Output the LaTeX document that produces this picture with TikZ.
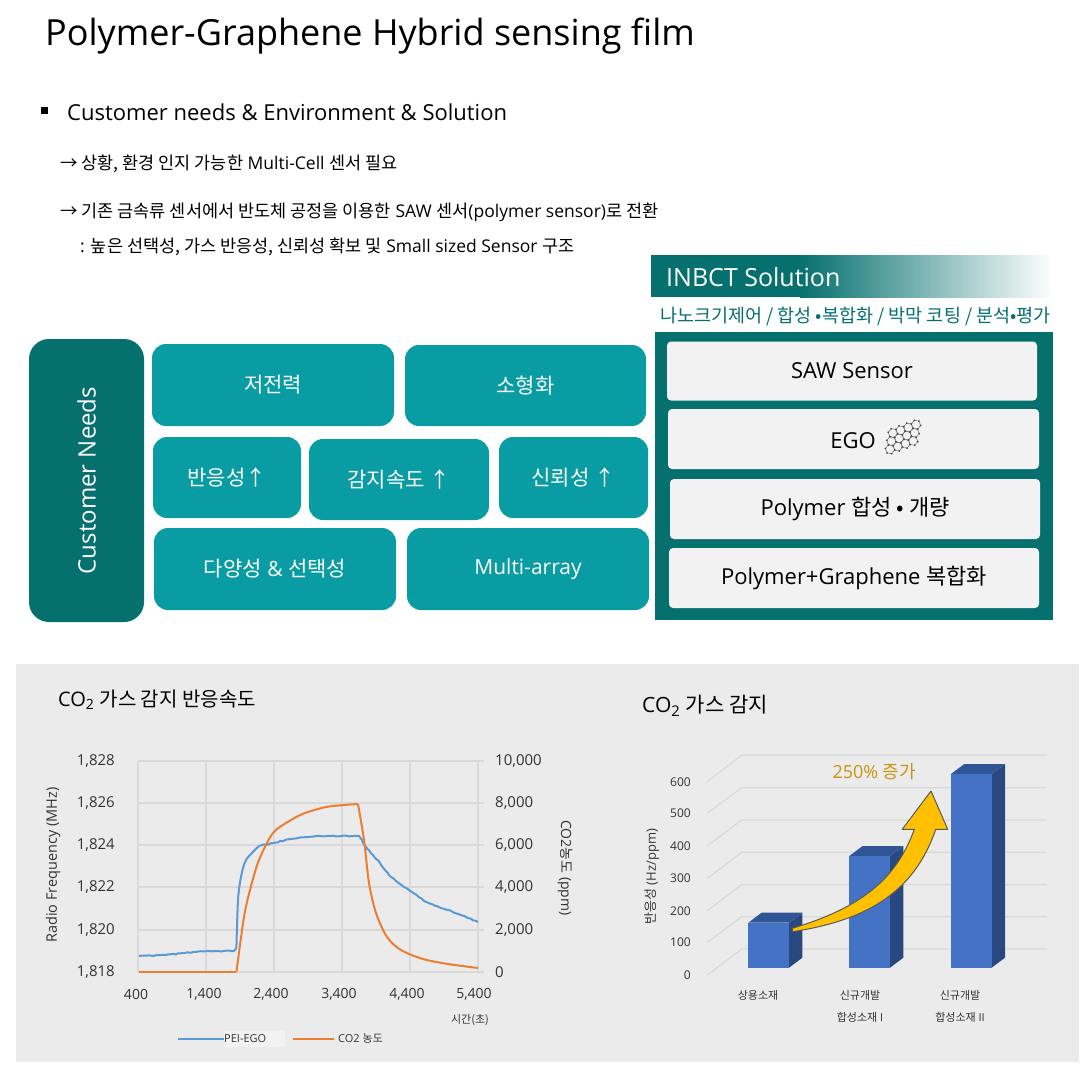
\documentclass[tikz,border=0pt]{standalone}
\usepackage{fontspec}
\setmainfont{Open Sans}
\newfontfamily\krfont{Noto Sans CJK KR}
\newcommand{\kr}[1]{{\krfont #1}}
\usetikzlibrary{decorations.pathmorphing}
\definecolor{darkteal}{HTML}{06706F}
\definecolor{liteteal}{HTML}{0A9CA3}
\definecolor{palebox}{HTML}{F2F2F2}
\definecolor{panelgray}{HTML}{EBEBEB}
\definecolor{gridgray}{HTML}{D9D9D9}
\definecolor{chartink}{HTML}{333333}
\definecolor{lineblue}{HTML}{5B9BD5}
\definecolor{lineorange}{HTML}{ED7D31}
\definecolor{barfront}{HTML}{4472C4}
\definecolor{bartop}{HTML}{2F5597}
\definecolor{barside}{HTML}{2A4880}
\definecolor{arrowgold}{HTML}{FFC000}
\definecolor{labelgold}{HTML}{C8950F}
\tikzset{
	needbox/.style={fill=liteteal,rounded corners=14pt,text=white,inner sep=0pt,font=\fontsize{21}{25}\selectfont},
	solbox/.style={fill=palebox,rounded corners=4pt,text=black,inner sep=0pt,minimum width=370pt,minimum height=59pt,font=\fontsize{22}{26}\selectfont},
	noteline/.style={anchor=west,inner sep=0pt,font=\fontsize{17.5}{21}\selectfont},
	ticklabel/.style={text=chartink,inner sep=0pt,font=\fontsize{15}{18}\selectfont},
	barlabel/.style={text=chartink,inner sep=0pt,font=\fontsize{12}{14}\selectfont},
	smallink/.style={text=chartink,inner sep=0pt,font=\fontsize{11}{13}\selectfont},
	gridline/.style={draw=gridgray,line width=1.6pt},
	noisy/.style={decorate,decoration={random steps,segment length=2.5pt,amplitude=.5pt}},
	traceline/.style={line width=2pt,line join=round},
}
\begin{document}
\begin{tikzpicture}[x=1pt,y=-1pt]
	\useasboundingbox (0,0) rectangle (1089,1073);
	\node (title) [anchor=west,inner sep=0pt,font=\fontsize{36}{42}\selectfont] at (45,36) {Polymer-Graphene Hybrid sensing film};
	\node (bullet) [fill=black,inner sep=0pt,minimum size=7pt] at (44,110) {};
	\node (needshead) [anchor=west,inner sep=0pt,font=\fontsize{22}{26}\selectfont] at (67,112) {Customer needs \& Environment \& Solution};
	\node (noteone) [noteline] at (60,164) {\kr{→ 상황, 환경 인지 가능한} Multi-Cell \kr{센서 필요}};
	\node (notetwo) [noteline] at (60,212) {\kr{→ 기존 금속류 센서에서 반도체 공정을 이용한} SAW \kr{센서}(polymer sensor)\kr{로 전환}};
	\node (notethree) [noteline] at (80,247) {: \kr{높은 선택성, 가스 반응성, 신뢰성 확보 및} Small sized Sensor \kr{구조}};

	\node (needs) [fill=darkteal,rounded corners=20pt,text=white,inner sep=0pt,rotate=90,minimum width=283pt,minimum height=115pt,font=\fontsize{24}{28}\selectfont] at (86.5,480.5) {Customer Needs};
	\node (power) [needbox,minimum width=242pt,minimum height=82pt] at (273,385) {\kr{저전력}};
	\node (small) [needbox,minimum width=241pt,minimum height=81pt] at (525.5,385.5) {\kr{소형화}};
	\node (response) [needbox,minimum width=148pt,minimum height=81pt] at (227,477.5) {\kr{반응성↑}};
	\node (speed) [needbox,minimum width=180pt,minimum height=81pt] at (399,479.5) {\kr{감지속도 ↑}};
	\node (trust) [needbox,minimum width=149pt,minimum height=81pt] at (573.5,477.5) {\kr{신뢰성 ↑}};
	\node (variety) [needbox,minimum width=242pt,minimum height=82pt] at (275,569) {\kr{다양성} \& \kr{선택성}};
	\node (array) [needbox,minimum width=242pt,minimum height=82pt] at (528,569) {Multi-array};

	\fill[darkteal] (651,255) rectangle (800,297);
	\shade[left color=darkteal,right color=white] (800,255) rectangle (1053,297);
	\node (solhead) [anchor=west,text=white,inner sep=0pt,font=\fontsize{25}{30}\selectfont] at (666,277) {INBCT Solution};
	\node (solsub) [text=darkteal,inner sep=0pt,font=\fontsize{18.5}{22}\selectfont] at (855.5,316) {\kr{나노크기제어 / 합성 •복합화 / 박막 코팅 / 분석•평가}};
	\node (solpanel) [fill=darkteal,inner sep=0pt,minimum width=398pt,minimum height=288pt] at (854,476) {};
	\node (saw) [solbox] at (852,371) {SAW Sensor};
	\node (ego) [solbox,minimum width=371pt,minimum height=60pt] at (853.5,439) {};
	\node (egotext) [inner sep=0pt,font=\fontsize{22}{26}\selectfont] at (853,441) {EGO};
	\node (polymer) [solbox,minimum height=60pt] at (855,509) {Polymer \kr{합성 • 개량}};
	\node (hybrid) [solbox,minimum height=60pt] at (854,578) {Polymer+Graphene \kr{복합화}};
	\begin{scope}[shift={(903,437)},x=1pt,y=1pt,rotate=20]
		\foreach \c in {0,...,3}
			\foreach \r in {0,...,2}
				\foreach \a in {30,90,...,330}
				{
					\draw[gray,line width=.6pt] ({(\c-1.5)*8.2+(\r-1)*4.1+4.7*cos(\a)},{(\r-1)*7.1+4.7*sin(\a)}) -- ({(\c-1.5)*8.2+(\r-1)*4.1+4.7*cos(\a+60)},{(\r-1)*7.1+4.7*sin(\a+60)});
					\fill[black!70] ({(\c-1.5)*8.2+(\r-1)*4.1+4.7*cos(\a)},{(\r-1)*7.1+4.7*sin(\a)}) circle (1pt);
				}
	\end{scope}

	\fill[panelgray] (16,664) rectangle (1079,1062);
	\node (leftname) [anchor=west,inner sep=0pt,font=\fontsize{20}{24}\selectfont] at (58,700) {CO\textsubscript{2} \kr{가스 감지 반응속도}};
	\node (rightname) [anchor=west,inner sep=0pt,font=\fontsize{21}{25}\selectfont] at (642,706) {CO\textsubscript{2} \kr{가스 감지}};

	\foreach \x in {138,206,274,342,410,478}
		\draw[gridline] (\x,760.5) -- (\x,972);
	\foreach \y in {761,803,845,887,930,972}
		\draw[gridline] (138,\y) -- (484,\y);
	\foreach \y/\ltext/\rtext in {761/{1,828}/{10,000},803/{1,826}/{8,000},845/{1,824}/{6,000},887/{1,822}/{4,000},930/{1,820}/{2,000},972/{1,818}/{0}}
	{
		\node (leftval\y) [ticklabel,anchor=east] at (115,\y) {\ltext};
		\node (rightval\y) [ticklabel,anchor=west] at (495,\y) {\rtext};
	}
	\foreach \x/\xtext in {136/{400},204/{1,400},271/{2,400},339/{3,400},407/{4,400},474/{5,400}}
		\node (timeval\x) [ticklabel,font=\fontsize{14}{17}\selectfont] at (\x,994) {\xtext};
	\node (lefttitle) [ticklabel,rotate=90,font=\fontsize{14.5}{17}\selectfont] at (53,865) {Radio Frequency (MHz)};
	\node (righttitle) [ticklabel,rotate=-90,font=\fontsize{14}{17}\selectfont] at (565,868) {CO2\kr{농도} (ppm)};
	\node (timetitle) [smallink] at (470,1020) {\kr{시간(초)}};

	\draw[lineblue,traceline,noisy] (139,956) -- (166,955) -- (184,953) -- (209,951) -- (234,951) -- (236.4,948);
	\draw[lineblue,traceline] plot[smooth,tension=.5] coordinates {(236.4,948) (238,900) (241,877) (246,860) (259,846)};
	\draw[lineblue,traceline,noisy] (259,846) -- (273,843) -- (291,839) -- (305,837) -- (316,836) -- (359,836) -- (366,847) -- (373,855) -- (380,863) -- (391,877) -- (400,884) -- (409,890) -- (426,902) -- (437,906) -- (448,910) -- (466,917) -- (478,922);
	\draw[lineorange,traceline] (139,972) -- (236.4,972);
	\draw[lineorange,traceline] plot[smooth,tension=.5] coordinates {(236.4,972) (244,917) (250,890) (259,860) (273,833) (291,820) (305,813) (326,807) (344,805) (358,804)};
	\draw[lineorange,traceline] plot[smooth,tension=.5] coordinates {(358,804) (364,840) (369,883) (376,913) (387,937) (401,950) (423,959) (448,964) (478,968)};

	\node (legendone) [anchor=west,fill=palebox,inner sep=0pt,minimum width=61pt,minimum height=16pt,smallink,text width=61pt] at (224,1039) {PEI-EGO};
	\coordinate (legendonestart) at (178,1039);
	\draw[lineblue,traceline] (legendonestart) -- (legendone.west);
	\node (legendtwo) [anchor=west,smallink] at (338,1038) {CO2 \kr{농도}};
	\coordinate (legendtwostart) at (292.5,1039);
	\draw[lineorange,traceline] (legendtwostart) -- (334,1039);

	\foreach \back/\front in {949/975,916.7/942.3,884.7/910.7,852.3/878.3,820/846,787.7/813.3,755/781.7}
		\draw[gridline,line width=1.2pt] (707.3,\front) -- (741.7,\back) -- (1046.7,\back);
	\foreach \y/\ytext in {975/0,942.3/100,910.7/200,878.3/300,846/400,813.3/500,781.7/600}
		\node (countval\ytext) [barlabel,anchor=east] at (691,\y) {\ytext};
	\node (counttitle) [barlabel,rotate=90,font=\fontsize{13}{16}\selectfont] at (652,876.7) {\kr{반응성} (Hz/ppm)};
	\foreach \x/\t in {748.3/922.7,849.3/856,951/774}
	{
		\fill[barside] (\x+40.7,\t) -- (\x+54,\t-10) -- (\x+54,957.7) -- (\x+40.7,967.7) -- cycle;
		\fill[bartop] (\x,\t) -- (\x+13.3,\t-10) -- (\x+54,\t-10) -- (\x+40.7,\t) -- cycle;
		\fill[barfront] (\x,\t) rectangle (\x+40.7,967.7);
	}
	\node (catone) [smallink] at (758,995) {\kr{상용소재}};
	\node (cattwo) [smallink] at (860,995) {\kr{신규개발}};
	\node (cattwob) [smallink] at (860,1017) {\kr{합성소재} I};
	\node (catthree) [smallink] at (960,995) {\kr{신규개발}};
	\node (catthreeb) [smallink] at (960,1017) {\kr{합성소재} II};
	\draw[fill=arrowgold,draw=black!65,line width=1pt,line join=round]
		(792.3,928.3) .. controls (860,908) and (896,880) .. (914.3,829.3) -- (902.3,829.3) -- (931,791) -- (947.7,829.3) -- (935.7,829.3)
		.. controls (915,890) and (870,920) .. (792.3,931.7) -- cycle;
	\node (gain) [text=labelgold,inner sep=0pt,font=\fontsize{18}{22}\selectfont] at (874.3,771.7) {250\% \kr{증가}};
\end{tikzpicture}
\end{document}
